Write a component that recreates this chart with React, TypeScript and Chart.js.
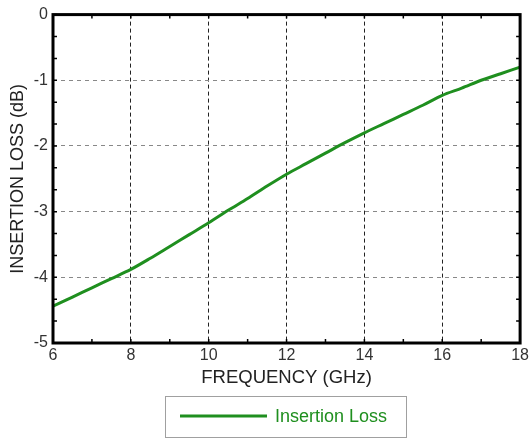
import React, { useEffect, useRef } from "react";
import { Chart, registerables } from "chart.js";

Chart.register(...registerables);

const freqGHz = [6, 6.5, 7, 7.5, 8, 8.5, 9, 9.5, 10, 10.5, 11, 11.5, 12, 12.5, 13, 13.5, 14, 14.5, 15, 15.5, 16, 16.5, 17, 17.5, 18];
const insertionLossDb = [-4.44, -4.3, -4.16, -4.02, -3.88, -3.71, -3.53, -3.35, -3.17, -2.98, -2.8, -2.61, -2.43, -2.27, -2.11, -1.95, -1.8, -1.66, -1.52, -1.38, -1.23, -1.12, -1.0, -0.9, -0.8];
const xMinorTicks = [6, 7, 8, 9, 10, 11, 12, 13, 14, 15, 16, 17, 18];
const yMinorTicks = [0, -1 / 3, -2 / 3, -1, -4 / 3, -5 / 3, -2, -7 / 3, -8 / 3, -3, -10 / 3, -11 / 3, -4, -13 / 3, -14 / 3, -5];
const seriesLabel = "Insertion Loss";
const xTitle = "FREQUENCY (GHz)";
const yTitle = "INSERTION LOSS (dB)";

const GREEN = "#1f8f1f";
const FONT = "'Liberation Sans', Arial, sans-serif";

const framePlugin = {
  id: "frame",
  afterDatasetsDraw(chart: any) {
    const { ctx, chartArea } = chart;
    const xs = chart.scales.x;
    const ys = chart.scales.y;
    const { left, right, top, bottom } = chartArea;
    ctx.save();
    ctx.strokeStyle = "#000";
    ctx.lineWidth = 1.5;
    ctx.beginPath();
    for (const v of xMinorTicks) {
      const px = xs.getPixelForValue(v);
      ctx.moveTo(px, bottom);
      ctx.lineTo(px, bottom - 4);
      ctx.moveTo(px, top);
      ctx.lineTo(px, top + 4);
    }
    for (const v of yMinorTicks) {
      const py = ys.getPixelForValue(v);
      ctx.moveTo(left, py);
      ctx.lineTo(left + 4, py);
      ctx.moveTo(right, py);
      ctx.lineTo(right - 4, py);
    }
    ctx.stroke();
    ctx.lineWidth = 3;
    ctx.strokeRect(left, top, right - left, bottom - top);
    ctx.restore();
  },
  afterDraw(chart: any) {
    const { ctx } = chart;
    const ds = chart.data.datasets[0];
    const boxL = 165, boxT = 396, boxW = 241, boxH = 41;
    ctx.save();
    ctx.fillStyle = "#fff";
    ctx.fillRect(boxL, boxT, boxW, boxH);
    ctx.strokeStyle = "#a0a0a0";
    ctx.lineWidth = 1;
    ctx.strokeRect(boxL + 0.5, boxT + 0.5, boxW, boxH);
    const cy = boxT + 20;
    ctx.strokeStyle = ds.borderColor;
    ctx.lineWidth = 3;
    ctx.beginPath();
    ctx.moveTo(boxL + 15, cy);
    ctx.lineTo(boxL + 102, cy);
    ctx.stroke();
    ctx.fillStyle = ds.borderColor;
    ctx.font = `18px ${FONT}`;
    ctx.textBaseline = "middle";
    ctx.textAlign = "left";
    ctx.fillText(ds.label, boxL + 110, cy + 1);
    ctx.restore();
  },
};

export default function App() {
  const ref = useRef<HTMLCanvasElement | null>(null);
  useEffect(() => {
    if (!ref.current) return;
    const points = freqGHz.map((f, i) => ({ x: f, y: insertionLossDb[i] }));
    const chart = new Chart(ref.current, {
      type: "line",
      data: {
        datasets: [
          {
            label: seriesLabel,
            data: points,
            borderColor: GREEN,
            backgroundColor: GREEN,
            borderWidth: 3,
            pointRadius: 0,
            tension: 0.3,
            fill: false,
          },
        ],
      },
      options: {
        responsive: false,
        animation: false,
        devicePixelRatio: 1,
        layout: { padding: { top: 14, right: 11, bottom: 50, left: 0 } },
        plugins: { legend: { display: false }, tooltip: { enabled: false } },
        scales: {
          x: {
            type: "linear",
            min: 6,
            max: 18,
            ticks: { stepSize: 2, color: "#333", font: { family: FONT, size: 16 }, padding: 3 },
            grid: { color: "#222", lineWidth: 1, drawTicks: false, tickLength: 0 },
            border: { display: false, dash: [4, 3] },
            title: { display: true, text: xTitle, color: "#222", font: { family: FONT, size: 18.5 }, padding: { top: 0, bottom: 0 } },
            afterFit(scale: any) {
              scale.height = 46;
            },
          },
          y: {
            type: "linear",
            min: -5,
            max: 0,
            ticks: { stepSize: 1, color: "#333", font: { family: FONT, size: 16 }, padding: 5 },
            grid: { color: "#888", lineWidth: 1, drawTicks: false, tickLength: 0 },
            border: { display: false, dash: [4, 4] },
            title: { display: true, text: yTitle, color: "#222", font: { family: FONT, size: 18 }, padding: { top: 7, bottom: 0 } },
            afterFit(scale: any) {
              scale.width = 53;
            },
          },
        },
      },
      plugins: [framePlugin],
    });
    return () => chart.destroy();
  }, []);
  return (
    <div style={{ position: "fixed", left: 0, top: 0, width: 532, height: 439, background: "#fff" }}>
      <canvas ref={ref} width={532} height={439} style={{ display: "block" }} />
    </div>
  );
}
